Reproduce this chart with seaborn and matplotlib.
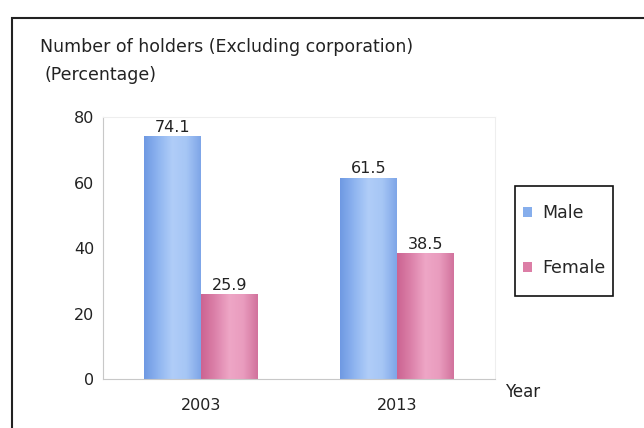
import matplotlib
matplotlib.use("Agg")
import matplotlib.pyplot as plt
import seaborn as sns
import pandas as pd
import numpy as np
from matplotlib.patches import Rectangle
from matplotlib.colors import LinearSegmentedColormap

# values
years = ["2003", "2013"]
male = [74.1, 61.5]
female = [25.9, 38.5]
groups = ["Male", "Female"]
yticks = [0, 20, 40, 60, 80]

df = pd.DataFrame({
    "year": years * 2,
    "group": [groups[0]] * len(years) + [groups[1]] * len(years),
    "pct": male + female,
})

sns.set_style("white")
plt.rcParams["font.family"] = ["DejaVu Sans"]

fig = plt.figure(figsize=(6.44, 4.28), dpi=100)
ax = fig.add_axes([0.160, 0.1145, 0.609, 0.612])

palette = {"Male": "#86AEEC", "Female": "#DC7EA6"}
sns.barplot(data=df, x="year", y="pct", hue="group", palette=palette,
            width=0.58, saturation=1, ax=ax, legend=True, linewidth=0)

# cylinder-like shading on the bars
shades = {
    "Male": ["#6F99E3", "#8FB5F0", "#B0CDF8", "#A6C6F5", "#7FA6E8"],
    "Female": ["#CC6492", "#DC82AA", "#EEA6C6", "#E99CBE", "#D2739D"],
}
grad = np.linspace(0, 1, 64).reshape(1, -1)
for cont, g in zip(ax.containers, groups):
    cmap = LinearSegmentedColormap.from_list(g, shades[g])
    for bar in cont:
        x0, y0 = bar.get_x(), bar.get_y()
        w, h = bar.get_width(), bar.get_height()
        im = ax.imshow(grad, cmap=cmap, aspect="auto",
                       extent=(x0, x0 + w, y0, y0 + h), zorder=bar.get_zorder() + 0.1)
        im.set_clip_path(bar)

for c in ax.containers:
    ax.bar_label(c, fmt="%.1f", fontsize=11.5, padding=1, color="#222222")

ax.set_ylim(0, 80)
ax.set_xlim(-0.5, 1.5)
ax.set_yticks(yticks)
ax.set_xlabel("")
ax.set_ylabel("")
ax.tick_params(axis="both", labelsize=11.5, colors="#222222", length=3)
ax.tick_params(axis="x", pad=14, length=0)
ax.tick_params(axis="y", color="#bbbbbb")
for s in ["left", "bottom"]:
    ax.spines[s].set_color("#c8c8c8")
for s in ["top", "right"]:
    ax.spines[s].set_color("#eeeeee")

# minor x ticks between categories
ax.set_xticks([-0.5, 0.5, 1.5], minor=True)
ax.tick_params(axis="x", which="minor", length=4, color="#c8c8c8")

leg = ax.legend(loc="upper left", bbox_to_anchor=(523 / 644, 1 - 204 / 428),
                bbox_transform=fig.transFigure, frameon=False,
                fontsize=12.5, labelspacing=2.15, handlelength=0.5, handleheight=0.5,
                handletextpad=0.6, borderpad=0, borderaxespad=0)

# legend box
fig.patches.append(Rectangle((515 / 644, 1 - 296 / 428), 98 / 644, 110 / 428,
                             transform=fig.transFigure, fill=False,
                             edgecolor="#111111", linewidth=1.2))

fig.text(40 / 644, 1 - 47 / 428, "Number of holders (Excluding corporation)",
         fontsize=12.5, va="center", ha="left", color="#222222")
fig.text(45 / 644, 1 - 75 / 428, "(Percentage)",
         fontsize=12.5, va="center", ha="left", color="#222222")
fig.text(505 / 644, 1 - 392 / 428, "Year", fontsize=12, va="center",
         ha="left", color="#222222")

# outer frame of the scanned figure
fig.patches.append(Rectangle((12 / 644, -0.1), 1.2, 1.1 - 18 / 428,
                             transform=fig.transFigure, fill=False,
                             edgecolor="#222222", linewidth=1.5, clip_on=False))

fig.savefig("out.png", dpi=100)
